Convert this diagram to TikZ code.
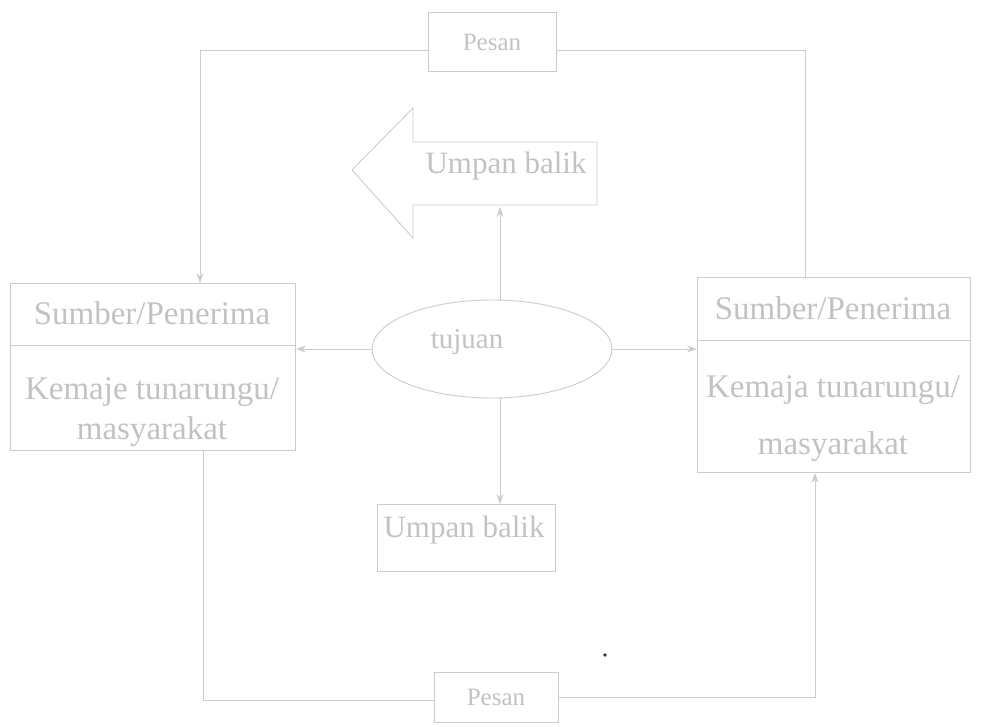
\documentclass[tikz,border=0pt]{standalone}
\usepackage{fontspec}
\setmainfont{Liberation Serif}
\usetikzlibrary{arrows.meta,shapes.geometric,positioning}
\definecolor{linec}{gray}{0.8}
\definecolor{textc}{gray}{0.76}
\tikzset{
  line/.style={draw=linec, line width=0.9pt},
  arr/.style={line, -{Stealth[length=10pt,width=7pt]}},
  box/.style={line, rectangle, inner sep=0pt, text=textc},
  lbl/.style={text=textc, inner sep=0pt, font=\fontsize{33}{36}\selectfont},
}
\begin{document}
\begin{tikzpicture}[x=1pt,y=-1pt]
\useasboundingbox (0,0) rectangle (986,727);
% Pesan top and bottom
\node[box, minimum width=128pt, minimum height=59pt, font=\fontsize{25}{28}\selectfont] (ptop) at (492,42) {Pesan};
\node[box, minimum width=124pt, minimum height=50pt, font=\fontsize{25}{28}\selectfont] (pbot) at (496,697) {Pesan};
% left box
\node[box, minimum width=285pt, minimum height=62pt, anchor=north west] (lhead) at (10,283) {};
\node[box, minimum width=285pt, minimum height=105pt, anchor=north west] (lbody) at (10,345) {};
\node[lbl] (lt1) at (152,313) {Sumber/Penerima};
\node[lbl] (lt2) at (152,392) {Kemaje tunarungu/};
\node[lbl] (lt3) at (152,432) {masyarakat};
% right box
\node[box, minimum width=273pt, minimum height=63pt, anchor=north west] (rhead) at (697,277) {};
\node[box, minimum width=273pt, minimum height=132pt, anchor=north west] (rbody) at (697,340) {};
\node[lbl] (rt1) at (833,308) {Sumber/Penerima};
\node[lbl] (rt2) at (833,390) {Kemaja tunarungu/};
\node[lbl] (rt3) at (833,447) {masyarakat};
% ellipse
\node[line, ellipse, minimum width=240pt, minimum height=98pt, inner sep=0pt] (ell) at (492,349) {};
\node[lbl, font=\fontsize{29}{32}\selectfont] (elt) at (467,342) {tujuan};
% big feedback arrow
\draw[line] (352,170) -- (413,108) -- (413,142) -- (597,142) -- (597,205) -- (413,205) -- (413,238) -- cycle;
\node[lbl, font=\fontsize{31}{34}\selectfont] (ub1) at (506,166) {Umpan balik};
\coordinate (ubase) at (500,207);
% bottom feedback box
\node[box, minimum width=178pt, minimum height=67pt] (ub2box) at (466,538) {};
\node[lbl, font=\fontsize{31}{34}\selectfont] (ub2) at (464,530) {Umpan balik};
% connectors from ellipse
\draw[arr] (ell.north -| ubase) -- (ubase);
\draw[arr] (ell.west) -- (lbody.east |- ell.west);
\draw[arr] (ell.east) -- (rbody.west |- ell.east);
\draw[arr] (ell.south -| ubase) -- (ub2box.north -| ubase);
% top loop
\coordinate (tl) at (200,50);
\coordinate (tr) at (805,50);
\draw[line] (rhead.north -| tr) -- (tr) -- (ptop.east |- tr);
\draw[arr] (ptop.west |- tl) -- (tl) -- (lhead.north -| tl);
% bottom loop
\coordinate (bl) at (203,700);
\coordinate (br) at (815,697);
\draw[line] (lbody.south -| bl) -- (bl) -- (pbot.west |- bl);
\draw[arr] (pbot.east |- br) -- (br) -- (rbody.south -| br);
% speck
\fill[black!80] (605,655) circle (1.8pt);
\end{tikzpicture}
\end{document}
